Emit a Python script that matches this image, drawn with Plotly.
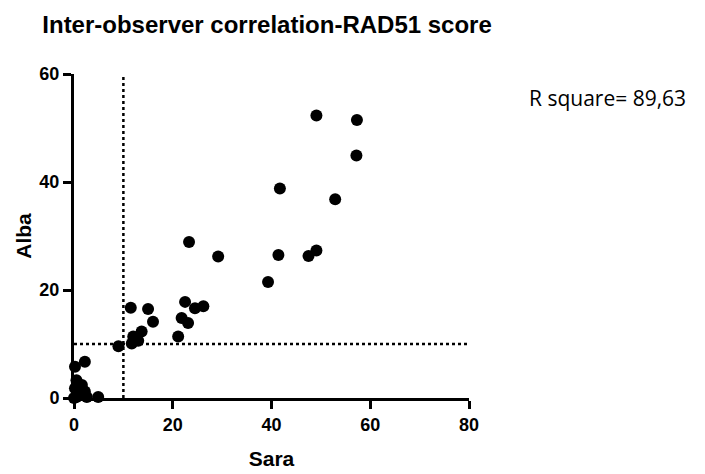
import plotly.graph_objects as go

# Sara (x) vs Alba (y) RAD51 scores
sara = [49.1, 57.3, 57.2, 41.7, 52.9, 41.4, 47.5, 49.1, 39.3,
        23.3, 29.2, 22.5, 24.5, 26.2, 21.8, 23.1, 21.1,
        11.5, 15.0, 16.0, 9.0, 12.0, 13.7, 11.7, 13.0,
        2.2, 0.2, 0.5, 1.6, 0.2, 2.2, 0.5, 2.6, 4.9, 0.0]
alba = [52.3, 51.5, 44.9, 38.8, 36.8, 26.5, 26.3, 27.3, 21.5,
        28.9, 26.2, 17.8, 16.6, 17.0, 14.8, 13.9, 11.4,
        16.7, 16.5, 14.1, 9.6, 11.4, 12.3, 10.1, 10.6,
        6.7, 5.8, 3.3, 2.4, 1.8, 1.2, 0.2, 0.2, 0.2, 0.0]

cutoff_x = 10
cutoff_y = 10
x_ticks = [0, 20, 40, 60, 80]
y_ticks = [0, 20, 40, 60]
title_text = "Inter-observer correlation-RAD51 score"
r_text = "R square= 89,63"

narrow = "Liberation Sans Narrow, Liberation Sans, Arial"

fig = go.Figure()
fig.add_trace(go.Scatter(
    x=[cutoff_x, cutoff_x], y=[0, 60], mode="lines",
    line=dict(color="black", width=2.5, dash="dot"), hoverinfo="skip", cliponaxis=False))
fig.add_trace(go.Scatter(
    x=[0, 80], y=[cutoff_y, cutoff_y], mode="lines",
    line=dict(color="black", width=2.5, dash="dot"), hoverinfo="skip", cliponaxis=False))
fig.add_trace(go.Scatter(
    x=sara, y=alba, mode="markers",
    marker=dict(color="black", size=12), cliponaxis=False))

axis_common = dict(
    showgrid=False, zeroline=False, showline=True, linecolor="black", linewidth=3,
    ticks="outside", ticklen=8, tickwidth=3, tickcolor="black", automargin=False,
    tickfont=dict(family=narrow, size=18, color="black", weight="bold"),
)

fig.update_layout(
    width=705, height=474,
    margin=dict(l=74, r=236, t=74, b=76),
    paper_bgcolor="white", plot_bgcolor="white",
    showlegend=False,
    title=dict(text=title_text, x=0.06, xanchor="left", y=0.948, yanchor="middle",
               font=dict(family=narrow, size=24, color="black", weight="bold")),
    xaxis=dict(range=[0, 80], tickvals=x_ticks, ticktext=[str(v) for v in x_ticks],
               title=dict(text="Sara", font=dict(family=narrow, size=21, color="black", weight="bold"), standoff=18),
               **axis_common),
    yaxis=dict(range=[0, 60], tickvals=y_ticks, ticktext=[str(v) for v in y_ticks],
               title=dict(text="Alba", font=dict(family=narrow, size=21, color="black", weight="bold"), standoff=3),
               **axis_common),
    annotations=[dict(text=r_text, xref="paper", yref="paper", x=1.148, y=0.925,
                      xanchor="left", yanchor="middle", showarrow=False,
                      font=dict(family="Open Sans", size=21, color="black"))],
)

fig.write_html("out.html")
